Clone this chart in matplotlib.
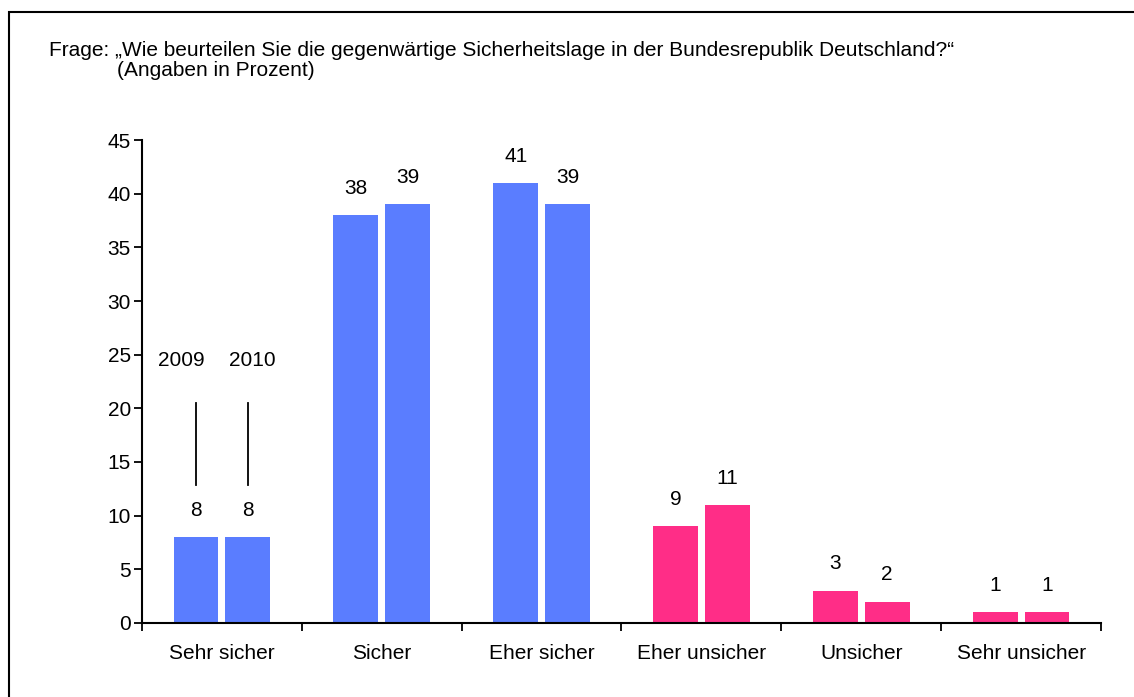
import matplotlib.pyplot as plt
import numpy as np
from matplotlib.patches import Rectangle

plt.rcParams['font.family'] = ['Liberation Sans', 'DejaVu Sans']

# survey answers, values in percent
categories = ["Sehr sicher", "Sicher", "Eher sicher", "Eher unsicher", "Unsicher", "Sehr unsicher"]
values_2009 = [8, 38, 41, 9, 3, 1]
values_2010 = [8, 39, 39, 11, 2, 1]
years = ["2009", "2010"]
bar_colors = ["#5A7DFF", "#5A7DFF", "#5A7DFF", "#FF2D87", "#FF2D87", "#FF2D87"]

fs = 15

fig = plt.figure(figsize=(11.34, 6.97), dpi=100)
ax = fig.add_axes([0.1252, 0.1062, 0.8457, 0.6929])

x = np.arange(len(categories)) + 0.5
w = 0.28
off = 0.162
ax.bar(x - off, values_2009, width=w, color=bar_colors)
ax.bar(x + off, values_2010, width=w, color=bar_colors)

# value labels above the bars
for i in range(len(categories)):
    ax.text(x[i] - off, values_2009[i] + 2.5, str(values_2009[i]), ha="center", va="center", fontsize=fs)
    ax.text(x[i] + off, values_2010[i] + 2.5, str(values_2010[i]), ha="center", va="center", fontsize=fs)

# year markers on the first group
for sign, yr, lab_off in zip([-1, 1], years, [-0.253, 0.188]):
    ax.plot([x[0] + sign * off] * 2, [12.9, 20.5], color="black", lw=1.3)
    ax.text(x[0] + lab_off, 24.5, yr, ha="center", va="center", fontsize=fs)

ax.set_xlim(0, len(categories))
ax.set_ylim(0, 45)
ax.set_yticks(range(0, 46, 5))
ax.set_xticks(np.arange(len(categories) + 1))
ax.set_xticklabels([])
ax.set_xticks(x, minor=True)
ax.set_xticklabels(categories, minor=True)
ax.tick_params(axis="x", which="minor", length=0, pad=15, labelsize=fs)
ax.tick_params(axis="x", which="major", length=6, width=1.3, direction="out")
ax.tick_params(axis="y", length=6, width=1.3, labelsize=fs, pad=2)
for s in ["top", "right"]:
    ax.spines[s].set_visible(False)
for s in ["left", "bottom"]:
    ax.spines[s].set_linewidth(1.5)

fig.text(49 / 1134, 1 - 50 / 697, "Frage: \u201eWie beurteilen Sie die gegenw\u00e4rtige Sicherheitslage in der Bundesrepublik Deutschland?\u201c",
         ha="left", va="center", fontsize=fs)
fig.text(117 / 1134, 1 - 70 / 697, "(Angaben in Prozent)", ha="left", va="center", fontsize=fs)

# outer frame (cut off at right and bottom)
fig.patches.append(Rectangle((9 / 1134, -0.1), 1.2, 1 - 12 / 697 + 0.1, transform=fig.transFigure,
                             fill=False, edgecolor="black", lw=1.5))

fig.savefig("out.png", dpi=100)
